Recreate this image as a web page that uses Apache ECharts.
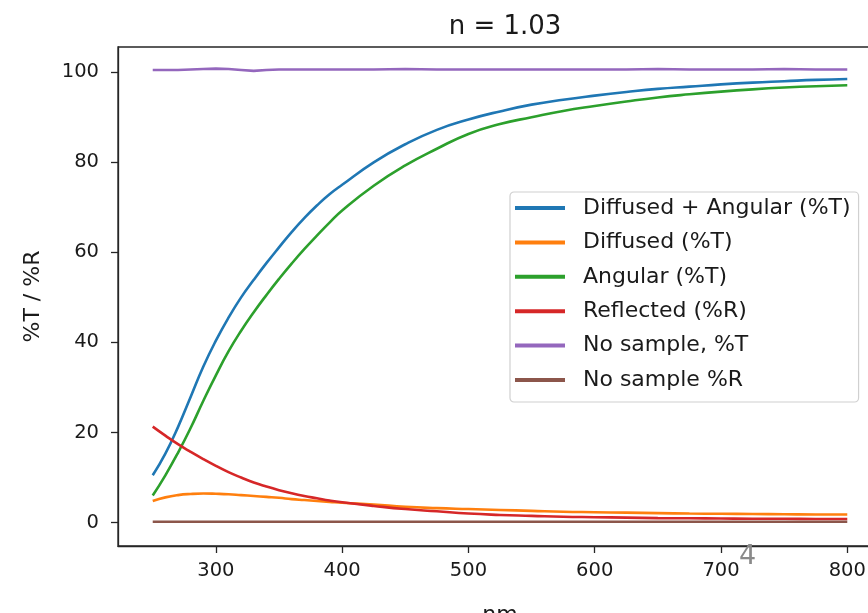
<!DOCTYPE html>
<html>
<head>
<meta charset="utf-8">
<title>n = 1.03</title>
<script src="https://cdn.jsdelivr.net/npm/echarts@6/dist/echarts.min.js"></script>
<style>
    html, body { margin: 0; padding: 0; background: #fff; overflow: hidden; }
    #chart_show { width: 868px; height: 613px; }
</style>
</head>
<body>
<div id="chart_show"></div>
<script>
// 1. data (nm / %)
var wavelengths = [250, 260, 270, 280, 290, 300, 310, 320, 330, 340, 350, 360, 370, 380, 390, 400,
                   425, 450, 475, 500, 525, 550, 575, 600, 625, 650, 675, 700, 725, 750, 775, 800];
var diffAngT   = [10.5, 15.3, 21.2, 27.9, 34.6, 40.4, 45.5, 50.0, 53.9, 57.6, 61.1, 64.5, 67.6, 70.4, 72.9, 75.0,
                  80.0, 84.0, 87.2, 89.5, 91.3, 92.8, 93.9, 94.8, 95.6, 96.3, 96.8, 97.3, 97.7, 98.0, 98.3, 98.5];
var diffusedT  = [4.8, 5.6, 6.1, 6.35, 6.45, 6.4, 6.3, 6.1, 5.9, 5.7, 5.5, 5.2, 5.0, 4.8, 4.6, 4.4,
                  4.0, 3.5, 3.2, 3.0, 2.8, 2.6, 2.4, 2.3, 2.2, 2.1, 2.0, 1.95, 1.9, 1.85, 1.8, 1.8];
var angularT   = [6.0, 10.5, 15.5, 21.0, 27.0, 32.7, 38.0, 42.6, 46.7, 50.5, 54.1, 57.5, 60.7, 63.7, 66.6, 69.3,
                  74.8, 79.3, 83.0, 86.3, 88.5, 90.0, 91.4, 92.5, 93.5, 94.4, 95.1, 95.7, 96.2, 96.6, 96.9, 97.1];
var reflectedR = [21.3, 19.3, 17.4, 15.7, 14.1, 12.6, 11.2, 10.0, 8.9, 8.0, 7.2, 6.5, 5.9, 5.4, 4.9, 4.5,
                  3.7, 3.0, 2.5, 2.0, 1.7, 1.5, 1.3, 1.2, 1.1, 1.0, 0.95, 0.9, 0.85, 0.85, 0.8, 0.8];
var noSampleT  = [100.5, 100.5, 100.5, 100.6, 100.7, 100.8, 100.7, 100.5, 100.3, 100.5, 100.6, 100.6, 100.6, 100.6, 100.6, 100.6,
                  100.6, 100.7, 100.6, 100.6, 100.6, 100.6, 100.6, 100.6, 100.6, 100.7, 100.6, 100.6, 100.6, 100.7, 100.6, 100.6];
var noSampleR  = [0.2, 0.2, 0.2, 0.2, 0.2, 0.2, 0.2, 0.2, 0.2, 0.2, 0.2, 0.2, 0.2, 0.2, 0.2, 0.2,
                  0.2, 0.2, 0.2, 0.2, 0.2, 0.2, 0.2, 0.2, 0.2, 0.2, 0.2, 0.2, 0.2, 0.2, 0.2, 0.2];
var xTicks = [300, 400, 500, 600, 700, 800];
var yTicks = [0, 20, 40, 60, 80, 100];

var seriesNames = ['Diffused + Angular (%T)', 'Diffused (%T)', 'Angular (%T)',
                   'Reflected (%R)', 'No sample, %T', 'No sample %R'];
var seriesValues = [diffAngT, diffusedT, angularT, reflectedR, noSampleT, noSampleR];
var seriesColors = ['#1f77b4', '#ff7f0e', '#2ca02c', '#d62728', '#9467bd', '#8c564b'];

// 2. pair each value with its wavelength
function toPairs(values) {
    var out = [];
    for (var i = 0; i < wavelengths.length; i++) {
        out.push([wavelengths[i], values[i]]);
    }
    return out;
}

var series = [];
for (var k = 0; k < seriesNames.length; k++) {
    series.push({
        name: seriesNames[k],
        type: 'line',
        data: toPairs(seriesValues[k]),
        smooth: k == 4 ? false : 0.5,
        showSymbol: false,
        lineStyle: {color: seriesColors[k], width: 2.6},
        itemStyle: {color: seriesColors[k]}
    });
}

var font = 'DejaVu Sans';
var axisColor = '#262626';

var oChart = echarts.init(document.getElementById('chart_show'), null, {renderer: 'canvas'});
var chartopt = {
    animation: false,
    backgroundColor: '#fff',
    textStyle: {fontFamily: font},
    title: {
        text: 'n = 1.03',
        left: 500,
        textAlign: 'center',
        top: 9,
        textStyle: {fontFamily: font, fontSize: 26, fontWeight: 'normal', color: '#1a1a1a'}
    },
    // right spine lies past the picture edge, like the original crop
    grid: {
        left: 118, top: 47, width: 764, bottom: 67,
        outerBoundsMode: 'none',
        containLabel: false,
        show: true, borderColor: axisColor, borderWidth: 1.3
    },
    legend: {
        orient: 'vertical',
        left: 510,
        top: 192,
        padding: [5, 8, 11, 5],
        itemGap: 12.4,
        itemWidth: 50,
        itemHeight: 4,
        icon: 'rect',
        selectedMode: false,
        backgroundColor: '#fff',
        borderColor: '#d0d0d0',
        borderWidth: 1.2,
        borderRadius: 4,
        textStyle: {fontFamily: font, fontSize: 22, color: '#1a1a1a', lineHeight: 22, padding: [0, 0, 0, 13]},
        data: seriesNames
    },
    xAxis: {
        type: 'value',
        min: 222.5,
        max: 827.5,
        name: 'nm',
        nameLocation: 'middle',
        nameGap: 58,
        nameTextStyle: {fontFamily: font, fontSize: 22, color: '#1a1a1a'},
        axisLine: {show: true, onZero: false, lineStyle: {color: axisColor, width: 1.3}},
        axisTick: {show: true, length: 7, customValues: xTicks, lineStyle: {color: axisColor, width: 1.3}},
        axisLabel: {customValues: xTicks, margin: 15, fontFamily: font, fontSize: 19.5, color: '#1a1a1a'},
        splitLine: {show: false}
    },
    yAxis: {
        type: 'value',
        min: -5.2,
        max: 105.6,
        name: '%T / %R',
        nameLocation: 'middle',
        nameGap: 74,
        nameTextStyle: {fontFamily: font, fontSize: 22, color: '#1a1a1a'},
        axisLine: {show: true, onZero: false, lineStyle: {color: axisColor, width: 1.3}},
        axisTick: {show: true, length: 7, customValues: yTicks, lineStyle: {color: axisColor, width: 1.3}},
        axisLabel: {customValues: yTicks, margin: 19, fontFamily: font, fontSize: 19.5, color: '#1a1a1a'},
        splitLine: {show: false}
    },
    // stray grey mark on the original picture
    graphic: [{
        type: 'text',
        left: 739,
        top: 543,
        z: 100,
        style: {text: '4', fontFamily: font, fontSize: 27, fill: '#8a8a8a'}
    }],
    series: series
};
oChart.setOption(chartopt);
</script>
</body>
</html>
